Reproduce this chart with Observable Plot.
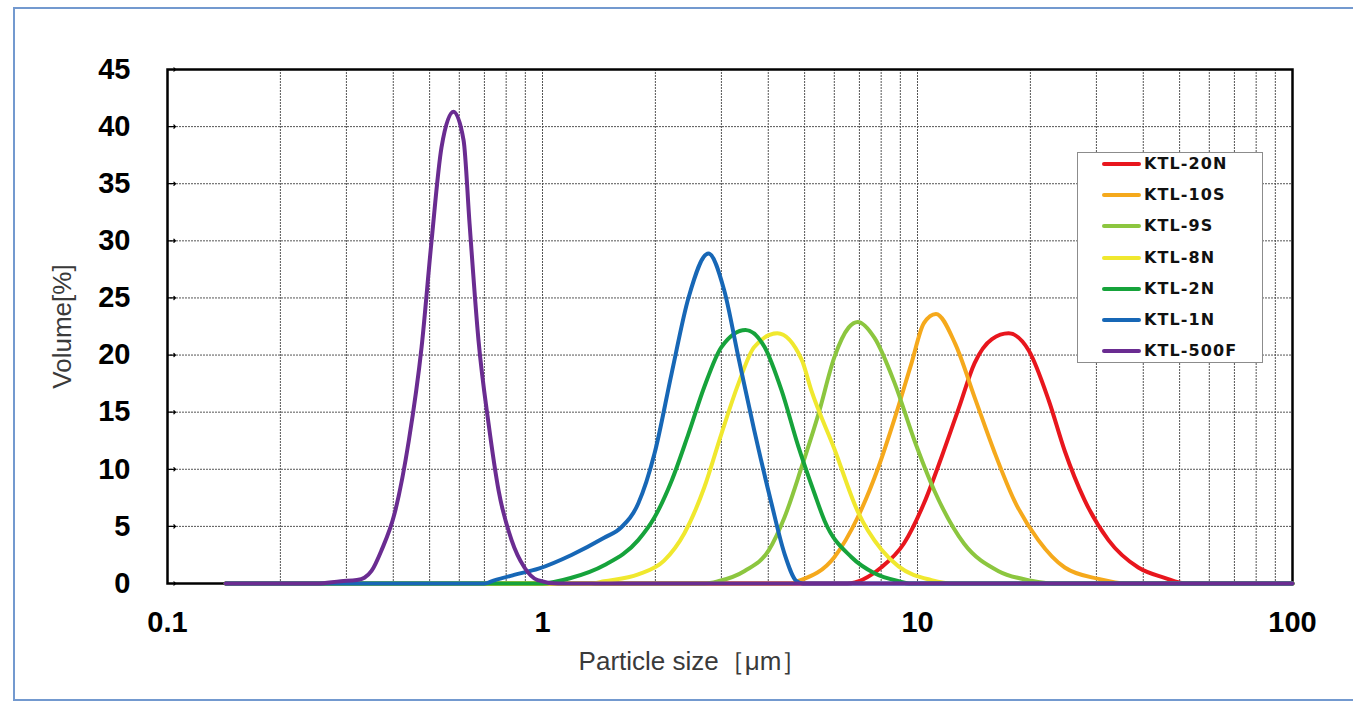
<!DOCTYPE html>
<html>
<head>
<meta charset="utf-8">
<script src="https://cdn.jsdelivr.net/npm/d3@7"></script>
<script src="https://cdn.jsdelivr.net/npm/@observablehq/plot@0.6"></script>
<style>
  html, body { margin: 0; padding: 0; background: #fff; overflow: hidden; }
  #wrap { position: relative; width: 1353px; height: 702px; }
  #border { position: absolute; left: 13px; top: 7px; width: 1420px; height: 694px;
            border: 2px solid #7399cf; box-sizing: border-box; pointer-events: none; }
  #chart { position: absolute; left: 0; top: 0; }
  #legend { position: absolute; left: 1077px; top: 152px; width: 186px; height: 211px;
            background: #fff; border: 1px solid #8c8c8c; box-sizing: border-box; }
  .item { position: absolute; left: 0; height: 20px; width: 100%; }
  .sw { position: absolute; left: 24px; top: 8px; width: 39px; height: 4px; border-radius: 2px; }
  .lab { position: absolute; left: 66px; top: 0; line-height: 20px; font: bold 16px "DejaVu Sans", sans-serif;
         letter-spacing: 1.1px; color: #111; white-space: nowrap; }
</style>
</head>
<body>
<div id="wrap">
  <div id="chart"></div>
  <div id="legend"></div>
  <div id="border"></div>
</div>
<script>
// ---- data ----
const seriesNames = ["KTL-20N", "KTL-10S", "KTL-9S", "KTL-8N", "KTL-2N", "KTL-1N", "KTL-500F"];
const seriesColors = ["#e8161d", "#f5a91c", "#8cc63f", "#f0e82e", "#16a33b", "#1767b6", "#6a2c91"];

const size20N = [0.143, 6.5, 8.0, 9.2, 10.4, 11.6, 12.9, 14.2, 15.8, 17.5, 19.8, 22.4, 24.7, 27.9, 32.3, 38.8, 45.6, 52, 100];
const vol20N  = [0,     0,   1.4, 3.5, 7.0,  11.1, 15.4, 19.3, 21.4, 21.9, 20.4, 16.0, 11.6, 7.3,  3.8,  1.4,  0.5,  0,  0];

const size10S = [0.143, 4.6, 4.8, 6.0, 6.93, 7.87, 8.7, 9.64, 10.4, 11.2, 12.6, 14.2, 16.0, 18.1, 21.0, 24.7, 30.4, 36, 100];
const vol10S  = [0,     0,   0.2, 2.3, 5.8,  10.2, 14.5, 19.3, 22.8, 23.6, 21.0, 16.3, 11.6, 7.3,  3.8,  1.4,  0.4,  0,  0];

const size9S = [0.143, 2.7, 2.94, 3.46, 4.01, 4.42, 4.91, 5.45, 6.0, 6.55, 6.93, 7.68, 8.7, 9.82, 11.1, 13.3, 16.4, 20.1, 23, 100];
const vol9S  = [0,     0,   0.2,  1.1,  2.9,  5.8,  10.2, 14.9, 19.8, 22.4, 22.9, 21.5, 17.5, 12.5, 8.1, 3.5,  1.1,  0.25, 0,  0];

const size8N = [0.143, 1.35, 1.46, 1.80, 2.11, 2.39, 2.70, 3.0,  3.33, 3.67, 4.23, 4.91, 5.21, 6.0,  6.93, 8.0, 8.9, 10.9, 12.5, 100];
const vol8N  = [0,     0,    0.2,  0.8,  2.0,  4.4,  8.4,  13.1, 17.5, 20.7, 21.9, 19.6, 16.9, 11.8, 6.3,  3.0, 1.5, 0.3,  0,    0];

const size2N = [0.143, 1.0, 1.195, 1.46, 1.80, 1.99, 2.21, 2.45, 2.70, 3.0,  3.48, 3.91, 4.34, 4.81, 5.31, 5.65, 6.67, 7.68, 8.9, 9.5, 100];
const vol2N  = [0,     0,   0.5,   1.6,  3.8,  5.8,  9.0,  13.1, 17.2, 20.7, 22.2, 20.7, 16.9, 12.0, 7.9,  5.5,  2.3,  0.9,  0.2, 0,   0];

const size1N = [0.143, 0.70, 0.74, 0.84, 0.976, 1.195, 1.46, 1.62, 1.80, 1.99, 2.21, 2.45, 2.77, 3.05, 3.33, 3.67, 4.08, 4.42, 4.76, 4.95, 100];
const vol1N  = [0,     0,    0.25, 0.75, 1.3,   2.5,   4.0,  4.9,  7.0,  11.4, 18.4, 25.0, 28.9, 25.7, 19.8, 13.4, 7.0,  2.6,  0.2,  0,    0];

const size500F = [0.143, 0.25, 0.29, 0.32, 0.335, 0.35, 0.372, 0.403, 0.44, 0.476, 0.506, 0.538, 0.579, 0.616, 0.639, 0.675, 0.718, 0.764, 0.827, 0.895, 0.97, 1.1, 100];
const vol500F  = [0,     0,    0.2,  0.3,  0.5,   1.1,  2.9,   6.1,   12.5, 20.7,  30.0,  38.2,  41.3,  38.8,  31.5,  21.3,  14.0,  8.1,   3.8,   1.4,   0.3,  0,   0];

const xTicks = [0.1, 1, 10, 100];
const xTickLabels = ["0.1", "1", "10", "100"];
const yTicks = [0, 5, 10, 15, 20, 25, 30, 35, 40, 45];
const xLabel = "Particle size［μm］";
const yLabel = "Volume[%]";

// ---- build table ----
const sizes = [size20N, size10S, size9S, size8N, size2N, size1N, size500F];
const vols = [vol20N, vol10S, vol9S, vol8N, vol2N, vol1N, vol500F];
const rows = seriesNames.flatMap((name, i) => sizes[i].map((s, j) => ({name, size: s, vol: vols[i][j]})));

// minor log grid lines
const gridX = [];
for (const d of [0.1, 1, 10]) for (let k = 2; k <= 10; k++) gridX.push(d * k);
gridX.pop(); // drop 100 (frame edge)
const gridY = yTicks.filter(v => v > 0 && v < 45);

const chart = Plot.plot({
  width: 1353,
  height: 702,
  marginLeft: 167,
  marginRight: 61,
  marginTop: 69,
  marginBottom: 119,
  style: {fontFamily: "'Liberation Sans', Arial, sans-serif", background: "transparent", color: "#000"},
  x: {type: "log", domain: [0.1, 100]},
  y: {domain: [0, 45]},
  color: {domain: seriesNames, range: seriesColors},
  marks: [
    Plot.ruleX(gridX, {x: d => d, stroke: "#555", strokeWidth: 1, strokeDasharray: "2,1"}),
    Plot.ruleY(gridY, {y: d => d, stroke: "#555", strokeWidth: 1, strokeDasharray: "2,1"}),
    Plot.vector(yTicks, {x: () => 0.1, y: d => d, length: 8, rotate: 90, anchor: "start", stroke: "#000", strokeWidth: 1.2}),
    Plot.axisX(xTicks, {tickSize: 0, tickPadding: 28, fontSize: 29, fontWeight: "bold",
      tickFormat: d => xTickLabels[xTicks.indexOf(d)], label: null}),
    Plot.axisY(yTicks, {tickSize: 0, tickPadding: 37, fontSize: 29, fontWeight: "bold", label: null}),
    Plot.frame({stroke: "#000", strokeWidth: 2.5}),
    Plot.line(rows, {x: "size", y: "vol", z: "name", stroke: "name", strokeWidth: 4, curve: "monotone-x"}),
    Plot.text([yLabel], {text: d => d, frameAnchor: "left", textAnchor: "middle", lineAnchor: "middle",
      dx: -105, rotate: -90, fontSize: 26, fill: "#3a3a3a"}),
    Plot.text([xLabel], {text: d => d, frameAnchor: "bottom", textAnchor: "middle", lineAnchor: "middle",
      dy: 78, dx: -37, fontSize: 26, fill: "#3a3a3a"})
  ]
});
document.getElementById("chart").appendChild(chart);

// ---- legend ----
const legend = document.getElementById("legend");
seriesNames.forEach((name, i) => {
  const item = document.createElement("div");
  item.className = "item";
  item.style.top = (1 + i * 31.2) + "px";
  const sw = document.createElement("div");
  sw.className = "sw";
  sw.style.background = seriesColors[i];
  const lab = document.createElement("div");
  lab.className = "lab";
  lab.textContent = name;
  item.appendChild(sw);
  item.appendChild(lab);
  legend.appendChild(item);
});
</script>
</body>
</html>
